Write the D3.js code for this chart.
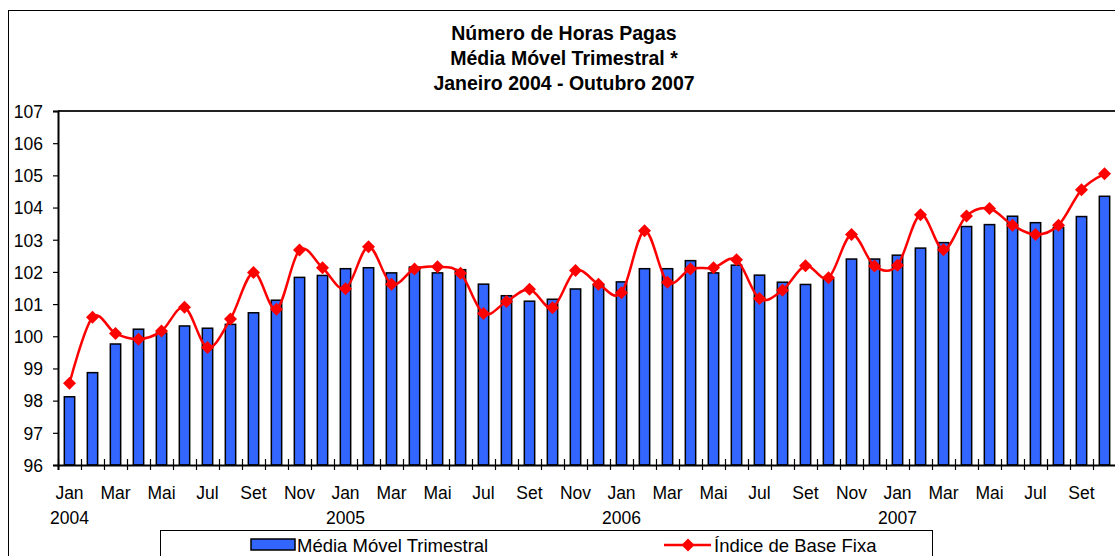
<!DOCTYPE html>
<html>
<head>
<meta charset="utf-8">
<script src="https://cdn.jsdelivr.net/npm/d3@7"></script>
<style>
  html, body { margin: 0; padding: 0; background: #fff; }
  svg { display: block; font-family: "Liberation Sans", Arial, sans-serif; }
</style>
</head>
<body>
<svg id="chart" width="1115" height="556"></svg>
<script>
// ---- data ----
const months = ["Jan","Fev","Mar","Abr","Mai","Jun","Jul","Ago","Set","Out","Nov","Dez",
                "Jan","Fev","Mar","Abr","Mai","Jun","Jul","Ago","Set","Out","Nov","Dez",
                "Jan","Fev","Mar","Abr","Mai","Jun","Jul","Ago","Set","Out","Nov","Dez",
                "Jan","Fev","Mar","Abr","Mai","Jun","Jul","Ago","Set","Out"];
const years = [2004,2004,2004,2004,2004,2004,2004,2004,2004,2004,2004,2004,
               2005,2005,2005,2005,2005,2005,2005,2005,2005,2005,2005,2005,
               2006,2006,2006,2006,2006,2006,2006,2006,2006,2006,2006,2006,
               2007,2007,2007,2007,2007,2007,2007,2007,2007,2007];
const mediaMovel = [98.12, 98.87, 99.76, 100.22, 100.10, 100.32, 100.25, 100.37, 100.73, 101.12, 101.83, 101.89,
                    102.10, 102.13, 101.97, 102.15, 101.97, 102.07, 101.62, 101.26, 101.09, 101.15, 101.47, 101.60,
                    101.69, 102.10, 102.10, 102.35, 101.97, 102.21, 101.90, 101.68, 101.61, 101.78, 102.40, 102.40,
                    102.52, 102.74, 102.91, 103.41, 103.47, 103.73, 103.53, 103.38, 103.72, 104.35];
const indiceBase = [98.54, 100.59, 100.09, 99.91, 100.16, 100.90, 99.65, 100.54, 101.98, 100.84, 102.68, 102.13,
                    101.48, 102.78, 101.62, 102.09, 102.16, 101.96, 100.71, 101.08, 101.46, 100.89, 102.04, 101.62,
                    101.35, 103.28, 101.68, 102.09, 102.13, 102.38, 101.17, 101.43, 102.19, 101.82, 103.16, 102.18,
                    102.21, 103.78, 102.69, 103.74, 103.97, 103.45, 103.16, 103.45, 104.55, 105.05];
const yTicks = [96,97,98,99,100,101,102,103,104,105,106,107];
const titleLines = ["Número de Horas Pagas", "Média Móvel Trimestral *", "Janeiro 2004 - Outubro 2007"];
const seriesNames = ["Média Móvel Trimestral", "Índice de Base Fixa"];

// ---- layout ----
const svg = d3.select("#chart");
const plot = { left: 58, right: 1116, top: 111, bottom: 465 };
const FONT = 17.5;

// outer frame
svg.append("rect").attr("x", 8.5).attr("y", 10.5).attr("width", 1113).attr("height", 560)
  .attr("fill", "none").attr("stroke", "#000").attr("stroke-width", 1);

// title
svg.append("g").selectAll("text").data(titleLines).join("text")
  .attr("x", 564).attr("y", (d, i) => 40 + i * 25)
  .attr("text-anchor", "middle").attr("font-weight", "bold").attr("font-size", 19.5)
  .attr("fill", "#000").text(d => d);

const idx = d3.range(months.length);
const x = d3.scaleBand().domain(idx).range([plot.left, plot.right]).padding(0);
const xLin = d3.scaleLinear().domain([0, months.length]).range([plot.left, plot.right]);
const y = d3.scaleLinear().domain([96, 107]).range([plot.bottom, plot.top]);

// plot area border (top + right)
svg.append("path")
  .attr("d", `M${plot.left},${plot.top}H${plot.right}V${plot.bottom}`)
  .attr("fill", "none").attr("stroke", "#222").attr("stroke-width", 2);

// bars
const bw = x.bandwidth() * 0.45;
svg.append("g").selectAll("rect").data(mediaMovel).join("rect")
  .attr("x", (d, i) => x(i) + (x.bandwidth() - bw) / 2)
  .attr("y", d => y(d))
  .attr("width", bw)
  .attr("height", d => y(96) - y(d))
  .attr("fill", "#3366FF").attr("stroke", "#000").attr("stroke-width", 1.5);

// y axis
const yAxis = svg.append("g").attr("transform", `translate(${plot.left},0)`)
  .call(d3.axisLeft(y).tickValues(yTicks).tickFormat(d3.format("d")).tickSize(5).tickPadding(10));
yAxis.select(".domain").attr("stroke", "#000").attr("stroke-width", 2);
yAxis.selectAll(".tick line").attr("stroke", "#000").attr("stroke-width", 1.2);
yAxis.selectAll(".tick text").attr("font-size", FONT).attr("font-family", "Liberation Sans, Arial, sans-serif")
  .attr("fill", "#000").attr("dy", "0.36em");

// x axis (ticks at category boundaries, crossing the axis)
const xAxis = svg.append("g").attr("transform", `translate(0,${plot.bottom})`)
  .call(d3.axisBottom(xLin).tickValues(d3.range(months.length + 1)).tickSize(5).tickFormat(""));
xAxis.select(".domain").attr("stroke", "#000").attr("stroke-width", 2);
xAxis.selectAll(".tick line").attr("y1", -6).attr("y2", 5).attr("stroke", "#000").attr("stroke-width", 1.2);

// x labels: every other month + year under January
const labG = svg.append("g").attr("font-size", FONT).attr("fill", "#000").attr("text-anchor", "middle");
labG.selectAll("text.m").data(idx.filter(i => i % 2 === 0)).join("text").attr("class", "m")
  .attr("x", i => x(i) + x.bandwidth() / 2).attr("y", 499).text(i => months[i]);
labG.selectAll("text.yr").data(idx.filter(i => months[i] === "Jan")).join("text").attr("class", "yr")
  .attr("x", i => x(i) + x.bandwidth() / 2).attr("y", 524).text(i => years[i]);

// line
const line = d3.line().x((d, i) => x(i) + x.bandwidth() / 2).y(d => y(d)).curve(d3.curveCardinal.tension(0));
svg.append("path").datum(indiceBase).attr("d", line)
  .attr("fill", "none").attr("stroke", "#FF0000").attr("stroke-width", 2.5);

const diamond = "M0,-6.5L6.5,0L0,6.5L-6.5,0Z";
svg.append("g").selectAll("path").data(indiceBase).join("path")
  .attr("d", diamond)
  .attr("transform", (d, i) => `translate(${x(i) + x.bandwidth() / 2},${y(d)})`)
  .attr("fill", "#FF0000");

// legend
const lg = svg.append("g");
lg.append("rect").attr("x", 160.5).attr("y", 530.5).attr("width", 772).attr("height", 40)
  .attr("fill", "#fff").attr("stroke", "#000").attr("stroke-width", 1);
lg.append("rect").attr("x", 251).attr("y", 539).attr("width", 44).attr("height", 11)
  .attr("fill", "#3366FF").attr("stroke", "#000").attr("stroke-width", 1.5);
lg.append("text").attr("x", 297).attr("y", 552).attr("font-size", 18.5).attr("fill", "#000").text(seriesNames[0]);
lg.append("line").attr("x1", 664).attr("x2", 711).attr("y1", 545).attr("y2", 545)
  .attr("stroke", "#FF0000").attr("stroke-width", 2.5);
lg.append("path").attr("d", diamond).attr("transform", "translate(688,545)").attr("fill", "#FF0000");
lg.append("text").attr("x", 714).attr("y", 552).attr("font-size", 18.5).attr("fill", "#000").text(seriesNames[1]);
</script>
</body>
</html>
